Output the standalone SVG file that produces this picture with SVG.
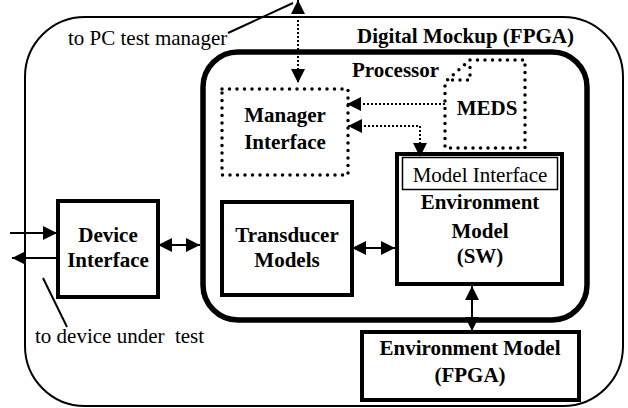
<svg xmlns="http://www.w3.org/2000/svg" width="628" height="408" viewBox="0 0 628 408">
<style>
text{font-family:"Liberation Serif","Times New Roman",serif;font-size:21px;fill:#000}
.b{font-weight:bold}
.m{text-anchor:middle}
.box{fill:#fff;stroke:#000;stroke-width:4}
.dotbox{fill:none;stroke:#000;stroke-width:3.5;stroke-dasharray:0 7.5;stroke-linecap:round}
.ln{fill:none;stroke:#000;stroke-width:2}
.dl{fill:none;stroke:#000;stroke-width:2;stroke-dasharray:2 2}
</style>
<defs>
<marker id="ah" markerUnits="userSpaceOnUse" markerWidth="14" markerHeight="14" refX="14" refY="7" orient="auto-start-reverse" viewBox="0 0 14 14">
<path d="M0,0 L14,7 L0,14 Z" fill="#000"/>
</marker>
</defs>
<g id="frame">
<rect x="25" y="17" width="598" height="389" rx="60" ry="60" fill="none" stroke="#000" stroke-width="2"/>
<text x="357" y="43" class="b">Digital Mockup (FPGA)</text>
<text x="68" y="45">to PC test manager</text>
<text x="35" y="343" style="white-space:pre">to device under  test</text>
</g>
<g id="processor">
<rect x="203" y="52" width="384" height="268" rx="35" ry="35" fill="none" stroke="#000" stroke-width="5.5"/>
<text x="352" y="77" class="b">Processor</text>
</g>
<g id="manager-interface">
<rect x="222" y="89" width="126" height="86" class="dotbox"/>
<text x="285" y="122" class="b m">Manager</text>
<text x="285" y="149" class="b m">Interface</text>
</g>
<g id="meds">
<path d="M470,60 H525 V148 H445 V82 Z M470,60 V80 H445" class="dotbox"/>
<text x="487" y="115" class="b m">MEDS</text>
</g>
<g id="environment-model-sw">
<rect x="397" y="154" width="165" height="130" class="box"/>
<rect x="402.5" y="157.5" width="155" height="32" fill="#fff" stroke="#000" stroke-width="1.5"/>
<text x="480" y="182" class="m">Model Interface</text>
<text x="480" y="209" class="b m">Environment</text>
<text x="480" y="238" class="b m">Model</text>
<text x="480" y="263" class="b m">(SW)</text>
</g>
<g id="transducer-models">
<rect x="222" y="202" width="130" height="93" class="box"/>
<text x="287" y="242" class="b m">Transducer</text>
<text x="287" y="267" class="b m">Models</text>
</g>
<g id="device-interface">
<rect x="58" y="201" width="100" height="96" class="box"/>
<text x="108" y="242" class="b m">Device</text>
<text x="108" y="267" class="b m">Interface</text>
</g>
<g id="environment-model-fpga">
<rect x="362" y="332" width="217" height="68" class="box"/>
<text x="470" y="355" class="b m">Environment Model</text>
<text x="470" y="382" class="b m">(FPGA)</text>
</g>
<g id="connectors">
<path d="M228,33 L293,3" class="ln"/>
<path d="M298,0 V83" class="dl" marker-start="url(#ah)" marker-end="url(#ah)"/>
<path d="M445,104 H347" class="dl" marker-end="url(#ah)"/>
<path d="M348,126 H420 V157" class="dl" marker-start="url(#ah)" marker-end="url(#ah)"/>
<path d="M10,233 H57" class="ln" marker-end="url(#ah)"/>
<path d="M57,258 H12" class="ln" marker-end="url(#ah)"/>
<path d="M43,278 L67,327" class="ln"/>
<path d="M158,245 H200" class="ln" marker-start="url(#ah)" marker-end="url(#ah)"/>
<path d="M352,248 H395" class="ln" marker-start="url(#ah)" marker-end="url(#ah)"/>
<path d="M472,286 V331" class="ln" marker-start="url(#ah)" marker-end="url(#ah)"/>
</g>
</svg>
